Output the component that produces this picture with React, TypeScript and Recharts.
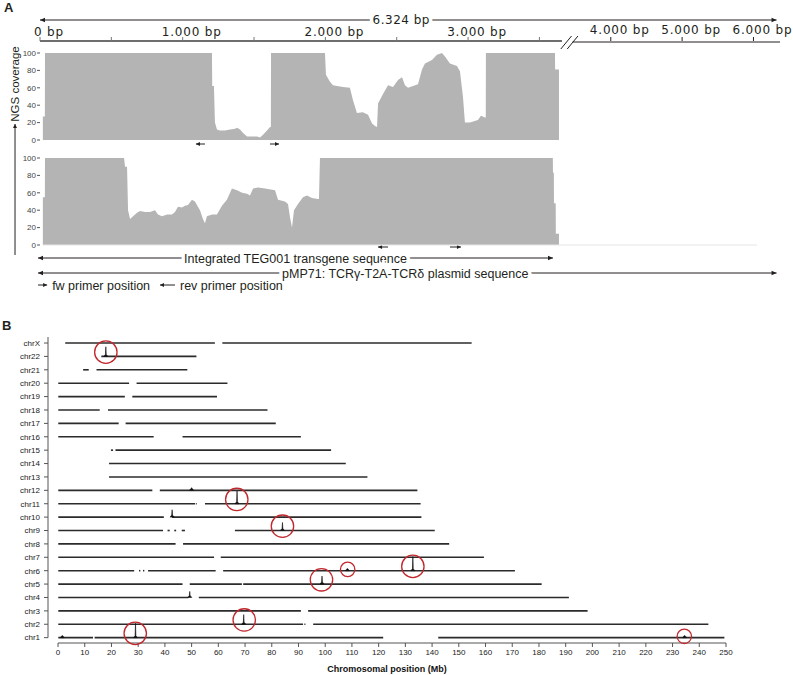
import React from 'react'
import { ComposedChart, Area, XAxis, YAxis, ReferenceLine, ReferenceDot, Label } from 'recharts'

// ---------- panel A: NGS coverage of the integrated transgene ----------

// [bp, coverage %] for the upper track
const coverageTop: [number, number][] = [
  [20, 27], [34, 27], [35, 100], [1205, 100], [1207, 62], [1219, 62], [1226, 20], [1240, 12],
  [1261, 11], [1296, 11], [1332, 12], [1367, 13], [1381, 14], [1402, 12], [1423, 8], [1451, 4],
  [1486, 4], [1521, 4], [1542, 3], [1563, 6], [1591, 11], [1612, 15], [1618, 15], [1619, 100],
  [1997, 100], [2004, 75], [2032, 67], [2053, 63], [2081, 62], [2123, 61], [2172, 60], [2193, 46],
  [2221, 31], [2263, 32], [2299, 29], [2327, 19], [2348, 16], [2362, 15], [2369, 42], [2404, 53],
  [2439, 63], [2474, 61], [2509, 69], [2537, 72], [2558, 63], [2579, 60], [2614, 62], [2649, 64],
  [2677, 81], [2698, 88], [2747, 92], [2782, 98], [2817, 100], [2838, 96], [2873, 88], [2922, 85],
  [2943, 79], [2964, 50], [2978, 20], [3013, 20], [3069, 23], [3090, 28], [3118, 26], [3124, 26],
  [3125, 100], [3609, 100], [3610, 81], [3637, 81],
]

// [bp, coverage %] for the lower track
const coverageBottom: [number, number][] = [
  [20, 55], [34, 55], [35, 100], [589, 100], [596, 90], [610, 90], [617, 40], [631, 30],
  [652, 33], [680, 37], [701, 39], [736, 38], [771, 38], [806, 40], [827, 35], [855, 33],
  [890, 35], [925, 35], [946, 38], [967, 44], [995, 43], [1016, 45], [1037, 46], [1065, 52],
  [1086, 50], [1121, 40], [1142, 30], [1156, 25], [1170, 33], [1205, 35], [1240, 35], [1275, 45],
  [1310, 52], [1345, 65], [1381, 63], [1416, 60], [1451, 59], [1472, 57], [1493, 65], [1528, 66],
  [1577, 65], [1647, 63], [1668, 52], [1717, 50], [1738, 47], [1752, 32], [1766, 20], [1780, 40],
  [1808, 47], [1843, 55], [1871, 57], [1906, 54], [1948, 53], [1955, 53], [1962, 100], [3594, 100],
  [3595, 83], [3601, 83], [3602, 48], [3614, 48], [3615, 13], [3637, 13],
]

// primer arrows [from bp, to bp], the head sits on "to"
const primersTop: [number, number][] = [[1156, 1093], [1612, 1675]]
const primersBottom: [number, number][] = [[2439, 2369], [2873, 2950]]

const rulerTicks = [0, 500, 1000, 1500, 2000, 2500, 3000, 3500, 4000, 5000, 6000]
const coverageTicks = [0, 20, 40, 60, 80, 100]
const PLASMID_BP = 6324
const TRANSGENE_BP = 3595

// ---------- panel B: integration sites per chromosome ----------

const chromosomes = [
  'chr1', 'chr2', 'chr3', 'chr4', 'chr5', 'chr6', 'chr7', 'chr8', 'chr9', 'chr10', 'chr11', 'chr12',
  'chr13', 'chr14', 'chr15', 'chr16', 'chr17', 'chr18', 'chr19', 'chr20', 'chr21', 'chr22', 'chrX',
]

// covered stretches in Mb, same order as chromosomes
const covered: [number, number][][] = [
  [[0.1, 13.1], [13.7, 121.7], [142.3, 249.4]],
  [[0.1, 91.7], [92.2, 92.6], [95.5, 243.4]],
  [[0.1, 90.9], [93.6, 198.2]],
  [[0.1, 48.8], [52.7, 191.2]],
  [[0.1, 46.6], [49.3, 68.8], [69.3, 181]],
  [[0.1, 28.5], [30.3, 30.8], [31.8, 32.3], [33.7, 59], [61.8, 171]],
  [[0.1, 58.4], [60.9, 159.4]],
  [[0.1, 44], [46.8, 146.4]],
  [[0.1, 39.3], [41, 41.8], [43.5, 44.2], [46.3, 47.5], [66.2, 141]],
  [[0.1, 39.6], [42.7, 136]],
  [[0.1, 51.3], [51.6, 51.9], [55, 135.7]],
  [[0.1, 35.3], [38.1, 134.5]],
  [[19.1, 115.8]],
  [[19.1, 107.7]],
  [[19.8, 20.6], [21.5, 102.2]],
  [[0.1, 35.8], [46.6, 90.9]],
  [[0.1, 22.7], [25.3, 81.5]],
  [[0.1, 15.6], [18.7, 78.4]],
  [[0.1, 25], [27.8, 59.5]],
  [[0.1, 26.6], [29.4, 63.4]],
  [[9.4, 11.5], [14.4, 48.4]],
  [[16.2, 51.8]],
  [[2.7, 58.7], [61.5, 154.8]],
]

// read peaks [chromosome, Mb, height in rows]
const peaks: [string, number, number][] = [
  ['chr22', 17.9, 0.72], ['chr12', 50, 0.2], ['chr11', 67, 0.95], ['chr10', 42.7, 0.55],
  ['chr9', 84, 0.6], ['chr6', 108.3, 0.15], ['chr6', 132.8, 1.05], ['chr5', 98.8, 0.6],
  ['chr4', 49.3, 0.45], ['chr2', 69.5, 0.72], ['chr1', 1.6, 0.15], ['chr1', 29, 1.07],
  ['chr1', 234.5, 0.15],
]

// circled integration sites [chromosome, Mb, kind]
const circled: [string, number, 'big' | 'small'][] = [
  ['chr22', 17.9, 'big'], ['chr11', 66.9, 'big'], ['chr9', 84, 'big'], ['chr6', 108.4, 'small'],
  ['chr6', 132.8, 'big'], ['chr5', 98.6, 'big'], ['chr2', 69.7, 'big'], ['chr1', 28.9, 'big'],
  ['chr1', 234.4, 'small'],
]

const mbTicks = [0, 10, 20, 30, 40, 50, 60, 70, 80, 90, 100, 110, 120, 130, 140, 150, 160, 170, 180, 190, 200, 210, 220, 230, 240, 250]

// ---------- helpers ----------

// the ruler is broken after 4.000 bp and the rest is drawn at half scale
const toAxis = (bp: number) => (bp <= 4000 ? bp : 4000 + (bp - 4000) * 0.5)
const fromAxis = (v: number) => (v <= 4000 ? v : 4000 + (v - 4000) * 2)
const AXIS_MAX = 5186

const SANS = '"Liberation Sans", Arial, sans-serif'
const INK = '#231f20'

const rowOf = (chr: string) => chromosomes.indexOf(chr) + 1

function headPoints(x1: number, y1: number, x2: number, y2: number, len: number, half: number) {
  const dx = x2 - x1
  const dy = y2 - y1
  const d = Math.hypot(dx, dy) || 1
  const ux = dx / d
  const uy = dy / d
  const bx = x2 - ux * len
  const by = y2 - uy * len
  return `${x2},${y2} ${bx - uy * half},${by + ux * half} ${bx + uy * half},${by - ux * half}`
}

function SpanArrow(p: any) {
  const { x1, y1, x2, y2, text, dx = 0, font = SANS, size = 12.5, spacing = 0 } = p
  return (
    <g>
      <line x1={x1} y1={y1} x2={x2} y2={y2} stroke={INK} strokeWidth={1} />
      <polygon points={headPoints(x2, y2, x1, y1, 5, 2.2)} fill={INK} />
      <polygon points={headPoints(x1, y1, x2, y2, 5, 2.2)} fill={INK} />
      <text
        x={(x1 + x2) / 2 + dx}
        y={y1}
        dy="0.36em"
        textAnchor="middle"
        fontFamily={font}
        fontSize={size}
        letterSpacing={spacing}
        fill={INK}
        stroke="#fff"
        strokeWidth={7}
        paintOrder="stroke"
      >
        {text}
      </text>
    </g>
  )
}

function SmallArrow(p: any) {
  const { x1, y1, x2, y2, text } = p
  return (
    <g>
      <line x1={x1} y1={y1} x2={x2} y2={y2} stroke={INK} strokeWidth={1} />
      <polygon points={headPoints(x1, y1, x2, y2, 4, 2)} fill={INK} />
      {text && (
        <text x={Math.max(x1, x2) + 5} y={y1} dy="0.36em" fontFamily={SANS} fontSize={12.5} fill={INK}>
          {text}
        </text>
      )}
    </g>
  )
}

function Peak(p: any) {
  const { x1, y1, y2 } = p
  return (
    <path
      d={`M${x1 - 2},${y1} L${x1 - 0.4},${y1 - 2} L${x1},${y2} L${x1 + 0.4},${y1 - 2} L${x1 + 2},${y1} Z`}
      fill="#111"
      stroke="#111"
      strokeWidth={0.6}
    />
  )
}

function RulerTick(p: any) {
  const { x, y, payload } = p
  const bp = Math.round(fromAxis(payload.value))
  const right = bp > 3700
  const label = bp % 1000 === 0 ? (bp === 0 ? '0 bp' : `${bp / 1000}.000 bp`) : null
  return (
    <g>
      <line x1={x} x2={x} y1={y} y2={y - 4} stroke={right ? INK : '#777'} strokeWidth={1} />
      {label && (
        <text
          x={x + 9}
          y={right ? y - 7 : y - 5}
          textAnchor="middle"
          fontFamily='"DejaVu Sans", Verdana, sans-serif'
          fontSize={12}
          letterSpacing={0.8}
          fill={INK}
        >
          {label}
        </text>
      )}
    </g>
  )
}

const abs = (left: number, top: number): React.CSSProperties => ({ position: 'absolute', left, top })

function CoverageTrack({ data, top, baseline }: { data: [number, number][]; top: number; baseline?: boolean }) {
  return (
    <div style={abs(0, top)}>
      <ComposedChart
        width={793}
        height={95}
        data={data.map(([bp, cov]) => ({ x: toAxis(bp), cov }))}
        margin={{ top: 3, right: 13, bottom: 5, left: 18 }}
      >
        <XAxis type="number" dataKey="x" domain={[0, AXIS_MAX]} hide allowDataOverflow />
        <YAxis
          type="number"
          domain={[0, 100]}
          ticks={coverageTicks}
          interval={0}
          width={22}
          axisLine={false}
          tickSize={3}
          tickMargin={1}
          tick={{ fontSize: 8, fill: '#444' }}
          tickLine={{ stroke: '#555' }}
        />
        {baseline && (
          <ReferenceLine segment={[{ x: 20, y: 0 }, { x: 5025, y: 0 }]} stroke="#e6e6e6" ifOverflow="visible" />
        )}
        <Area type="linear" dataKey="cov" fill="#b4b4b4" fillOpacity={1} stroke="none" isAnimationActive={false} />
      </ComposedChart>
    </div>
  )
}

export default function App() {
  return (
    <div
      style={{
        position: 'absolute',
        left: 0,
        top: 0,
        width: 793,
        height: 675,
        background: '#fff',
        overflow: 'hidden',
        fontFamily: SANS,
        color: INK,
      }}
    >
      {/* panel A: ruler and annotation arrows, y axis is the layout row in px */}
      <div style={abs(0, 0)}>
        <ComposedChart width={793} height={300} data={rulerTicks.map((bp) => ({ x: toAxis(bp) }))} margin={{ top: 0, right: 13, bottom: 0, left: 40 }}>
          <XAxis
            type="number"
            dataKey="x"
            orientation="top"
            height={41}
            domain={[0, AXIS_MAX]}
            ticks={rulerTicks.map(toAxis)}
            interval={0}
            tickSize={0}
            tickMargin={0}
            axisLine={false}
            tickLine={false}
            tick={RulerTick}
            allowDataOverflow
          />
          <YAxis type="number" domain={[41, 300]} reversed hide allowDataOverflow />

          {/* broken ruler */}
          <ReferenceLine segment={[{ x: 0, y: 41 }, { x: 3658, y: 41 }]} stroke="#6e6e6e" strokeWidth={2} ifOverflow="visible" />
          <ReferenceLine segment={[{ x: 3732, y: 42 }, { x: AXIS_MAX, y: 42 }]} stroke={INK} strokeWidth={1} ifOverflow="visible" />
          <ReferenceLine segment={[{ x: 3650, y: 49 }, { x: 3725, y: 36 }]} stroke={INK} strokeWidth={1} ifOverflow="visible" />
          <ReferenceLine segment={[{ x: 3695, y: 49 }, { x: 3770, y: 36 }]} stroke={INK} strokeWidth={1} ifOverflow="visible" />

          {/* total plasmid length */}
          <ReferenceLine
            segment={[{ x: 0, y: 20 }, { x: toAxis(PLASMID_BP), y: 20 }]}
            ifOverflow="visible"
            shape={(p: any) => (
              <SpanArrow {...p} text="6.324 bp" dx={-7} font='"DejaVu Sans", Verdana, sans-serif' size={12} spacing={0.5} />
            )}
          />

          {/* primers */}
          {primersTop.map(([a, b], i) => (
            <ReferenceLine key={`pt${i}`} segment={[{ x: a, y: 144 }, { x: b, y: 144 }]} ifOverflow="visible" shape={(p: any) => <SmallArrow {...p} />} />
          ))}
          {primersBottom.map(([a, b], i) => (
            <ReferenceLine key={`pb${i}`} segment={[{ x: a, y: 247 }, { x: b, y: 247 }]} ifOverflow="visible" shape={(p: any) => <SmallArrow {...p} />} />
          ))}

          {/* sequences */}
          <ReferenceLine
            segment={[{ x: -14, y: 258 }, { x: TRANSGENE_BP, y: 258 }]}
            ifOverflow="visible"
            shape={(p: any) => <SpanArrow {...p} text="Integrated TEG001 transgene sequence" />}
          />
          <ReferenceLine
            segment={[{ x: -14, y: 273 }, { x: toAxis(PLASMID_BP), y: 273 }]}
            ifOverflow="visible"
            shape={(p: any) => <SpanArrow {...p} text="pMP71: TCRγ-T2A-TCRδ plasmid sequence" dx={-2} />}
          />

          {/* legend */}
          <ReferenceLine
            segment={[{ x: -14, y: 285 }, { x: 50, y: 285 }]}
            ifOverflow="visible"
            shape={(p: any) => <SmallArrow {...p} text="fw primer position" />}
          />
          <ReferenceLine
            segment={[{ x: 946, y: 285 }, { x: 841, y: 285 }]}
            ifOverflow="visible"
            shape={(p: any) => <SmallArrow {...p} text="rev primer position" />}
          />

          {/* coverage axis arrow */}
          <ReferenceLine
            segment={[{ x: -175, y: 255 }, { x: -175, y: 124 }]}
            ifOverflow="visible"
            shape={(p: any) => <SmallArrow {...p} />}
          />
        </ComposedChart>
      </div>

      <CoverageTrack data={coverageTop} top={50} />
      <CoverageTrack data={coverageBottom} top={155} baseline />

      <div style={{ ...abs(4, 0), fontWeight: 'bold', fontSize: 13 }}>A</div>
      <div
        style={{
          position: 'absolute',
          left: 14.5,
          top: 84,
          fontSize: 11.5,
          whiteSpace: 'nowrap',
          transform: 'translate(-50%, -50%) rotate(-90deg)',
        }}
      >
        NGS coverage
      </div>

      {/* panel B */}
      <div style={{ ...abs(2, 318), fontWeight: 'bold', fontSize: 13 }}>B</div>
      <div style={abs(0, 300)}>
        <ComposedChart width={793} height={375} margin={{ top: 37, right: 67, bottom: 0, left: 8 }}>
          <XAxis
            type="number"
            dataKey="x"
            domain={[-3.75, 250]}
            ticks={mbTicks}
            interval={0}
            height={32}
            axisLine={false}
            tickSize={4}
            tickMargin={2}
            tick={{ fontSize: 8, fill: '#222' }}
            tickLine={{ stroke: '#555' }}
            allowDataOverflow
          >
            <Label
              value="Chromosomal position (Mb)"
              position="insideBottom"
              offset={3}
              style={{ fontSize: 9, fontWeight: 'bold', fill: '#111' }}
            />
          </XAxis>
          <YAxis
            type="number"
            domain={[0.6, 23.45]}
            ticks={chromosomes.map((_, i) => i + 1)}
            interval={0}
            width={40}
            axisLine={false}
            tickSize={4}
            tickMargin={4}
            tickFormatter={(v: number) => chromosomes[v - 1]}
            tick={{ fontSize: 8, fill: '#222' }}
            tickLine={{ stroke: '#555' }}
            allowDataOverflow
          />
          <ReferenceLine segment={[{ x: 0, y: 0.6 }, { x: 250, y: 0.6 }]} stroke="#555" ifOverflow="visible" />
          <ReferenceLine segment={[{ x: -3.75, y: 1 }, { x: -3.75, y: 23.45 }]} stroke="#555" ifOverflow="visible" />

          {covered.map((segs, ci) =>
            segs.map(([s, e], si) => (
              <ReferenceLine
                key={`c${ci}-${si}`}
                segment={[{ x: s, y: ci + 1 }, { x: e, y: ci + 1 }]}
                stroke="#2b2b2b"
                strokeWidth={1.6}
                ifOverflow="visible"
              />
            )),
          )}

          {peaks.map(([chr, mb, h], i) => (
            <ReferenceLine
              key={`pk${i}`}
              segment={[{ x: mb, y: rowOf(chr) }, { x: mb, y: rowOf(chr) + h }]}
              ifOverflow="visible"
              shape={(p: any) => <Peak {...p} />}
            />
          ))}

          {circled.map(([chr, mb, kind], i) => (
            <ReferenceDot
              key={`ci${i}`}
              x={mb}
              y={rowOf(chr) + (kind === 'big' ? 0.32 : 0.1)}
              r={kind === 'big' ? 11.2 : 7.2}
              fill="none"
              stroke="#c1272d"
              strokeWidth={1.3}
              ifOverflow="visible"
            />
          ))}
        </ComposedChart>
      </div>
    </div>
  )
}
